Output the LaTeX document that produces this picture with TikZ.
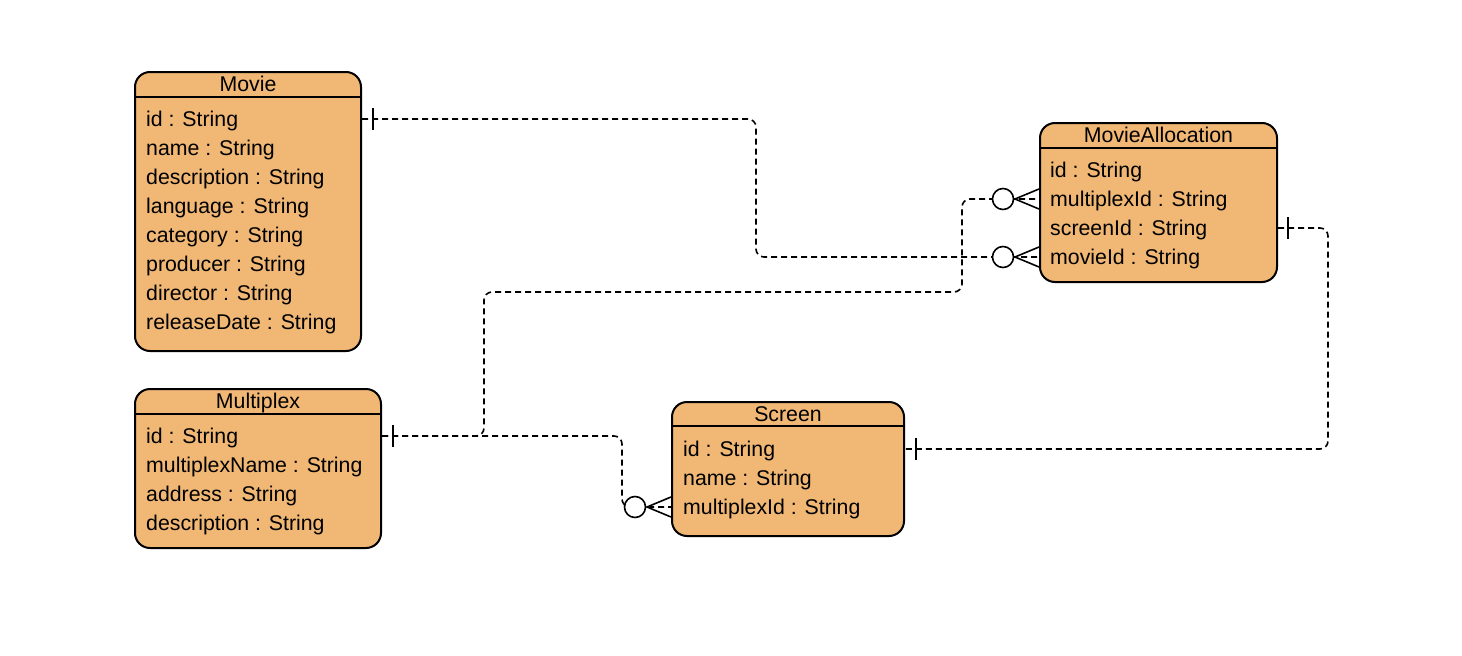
\documentclass[tikz,border=0pt]{standalone}
\usepackage{fontspec}
\setmainfont{Liberation Sans}
\usetikzlibrary{calc}
\definecolor{entfill}{HTML}{F0B775}
\begin{document}
\begin{tikzpicture}[x=1pt,y=-1pt,
  entity/.style={draw, line width=2pt, fill=entfill, rounded corners=15pt, anchor=north west, inner sep=0pt},
  rowtext/.style={anchor=base west, inner sep=0pt, font=\fontsize{21.3}{25}\selectfont},
  titletext/.style={anchor=base, inner sep=0pt, font=\fontsize{21.3}{25}\selectfont},
  rel/.style={line width=1.6pt, dash pattern=on 6pt off 4pt, rounded corners=8pt},
  tickline/.style={line width=1.6pt},
  ring/.style={draw, line width=1.6pt, fill=white, circle, minimum size=21pt, inner sep=0pt}]
\useasboundingbox (0,0) rectangle (1462,656);

% ---------- Movie ----------
\node[entity, minimum width=226pt, minimum height=279pt] (movie) at (134,71) {};
\draw[line width=2pt] ($(movie.north west)+(0,26)$) -- ($(movie.north east)+(0,26)$);
\node[titletext] (movieT) at ($(movie.north)+(0,20)$) {Movie};
\foreach \t [count=\i] in {id : String, name : String, description : String, language : String, category : String, producer : String, director : String, releaseDate : String}
  \node[rowtext] (mv\i) at (146,{119+29*(\i-1)+7.5}) {\t};

% ---------- Multiplex ----------
\node[entity, minimum width=246pt, minimum height=159pt] (mpx) at (134,388) {};
\draw[line width=2pt] ($(mpx.north west)+(0,26)$) -- ($(mpx.north east)+(0,26)$);
\node[titletext] (mpxT) at ($(mpx.north)+(0,20)$) {Multiplex};
\foreach \t [count=\i] in {id : String, multiplexName : String, address : String, description : String}
  \node[rowtext] (mp\i) at (146,{436+29*(\i-1)+7.5}) {\t};

% ---------- Screen ----------
\node[entity, minimum width=232pt, minimum height=134pt] (scr) at (671,401) {};
\draw[line width=2pt] ($(scr.north west)+(0,25)$) -- ($(scr.north east)+(0,25)$);
\node[titletext] (scrT) at ($(scr.north)+(0,20)$) {Screen};
\foreach \t [count=\i] in {id : String, name : String, multiplexId : String}
  \node[rowtext] (sc\i) at (683,{449+29*(\i-1)+7.5}) {\t};

% ---------- MovieAllocation ----------
\node[entity, minimum width=237pt, minimum height=159pt] (ma) at (1039,122) {};
\draw[line width=2pt] ($(ma.north west)+(0,26)$) -- ($(ma.north east)+(0,26)$);
\node[titletext] (maT) at ($(ma.north)+(0,20)$) {MovieAllocation};
\foreach \t [count=\i] in {id : String, multiplexId : String, screenId : String, movieId : String}
  \node[rowtext] (ma\i) at (1050,{170+29*(\i-1)+7.5}) {\t};

% ---------- attachment points ----------
\coordinate (movieId) at (movie.east |- 0,119);
\coordinate (mpxId) at (mpx.east |- 0,436);
\coordinate (scrId) at (scr.east |- 0,449);
\coordinate (scrMpx) at (scr.west |- 0,507);
\coordinate (maMpx) at (ma.west |- 0,199);
\coordinate (maScr) at (ma.east |- 0,228);
\coordinate (maMovie) at (ma.west |- 0,257);

% ---------- relations ----------
\draw[rel] (movieId) -- (756,119) -- (756,257) -- (maMovie);
\draw[rel] (mpxId) -- (484,436) -- (484,292) -- (962,292) -- (962,199) -- (maMpx);
\draw[rel] (mpxId) -- (622,436) -- (622,507) -- (scrMpx);
\draw[rel] (maScr) -- (1328,228) -- (1328,449) -- (scrId);

% one marks
\draw[tickline] ($(movieId)+(11,-11)$) -- ++(0,22);
\draw[tickline] ($(mpxId)+(11,-11)$) -- ++(0,22);
\draw[tickline] ($(maScr)+(10,-11)$) -- ++(0,22);
\draw[tickline] ($(scrId)+(11,-11)$) -- ++(0,22);

% zero-or-many marks
\foreach \p in {maMovie, maMpx, scrMpx} {
  \node[ring] at ($(\p)+(-36,0)$) {};
  \draw[tickline] ($(\p)+(0,-10)$) -- ($(\p)+(-24,0)$) -- ($(\p)+(0,10)$);
}
\end{tikzpicture}
\end{document}
